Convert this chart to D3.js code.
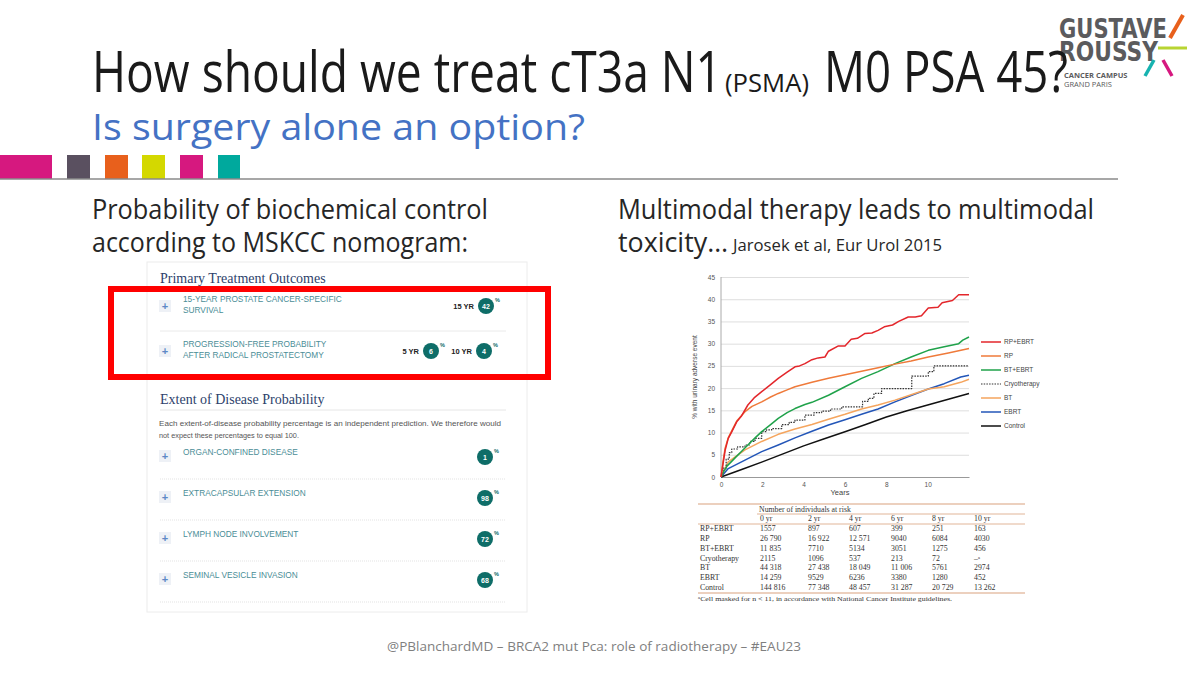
<!DOCTYPE html>
<meta charset="utf-8">
<style>
    body { margin: 0; background: #fff; }
    text { font-family: "Open Sans", "Noto Sans", sans-serif; }
    .sans text, text.sans { font-family: "Liberation Sans", Arial, sans-serif; }
    .serif text, text.serif, .sans text.serif { font-family: "Liberation Serif", "DejaVu Serif", serif; }
</style>

<svg width="1200" height="675"></svg>

<script src="https://cdn.jsdelivr.net/npm/d3@7"></script>
<script>

    // DATA

    // curves read from Jarosek et al (years, % with urinary adverse event)
    var rpEbrt = [[0,0],[0.1,3],[0.2,6],[0.35,8.7],[0.5,10],[0.76,12.4],[1.0,13.8],[1.3,16.2],[1.6,17.8],[1.97,19.2],
        [2.4,20.8],[2.77,22.2],[3.2,23.6],[3.58,24.8],[3.8,25],[4.06,25.5],[4.4,26.4],[4.7,26.8],[5.03,27],[5.2,28.3],
        [5.68,29.5],[6.0,29.5],[6.3,31],[6.6,31.2],[6.97,32.3],[7.3,32.4],[7.6,33],[7.9,33.8],[8.3,34.2],[8.6,35],
        [9.06,36],[9.4,36],[9.7,36.3],[10.03,38],[10.5,38.2],[10.7,39.2],[11.2,39.7],[11.5,41],[12,41]];
    var rp = [[0,0],[0.1,3.5],[0.2,6.5],[0.35,8.8],[0.5,10.2],[0.76,12.6],[1.16,14.7],[1.5,15.9],[1.97,16.9],[2.4,18],
        [2.77,18.8],[3.2,19.6],[3.58,20.3],[4.4,21.3],[5.2,22.2],[6,23],[6.8,23.8],[7.6,24.6],[8.42,25.4],[9.2,26.1],
        [10.03,27],[11,27.9],[12,28.9]];
    var btEbrt = [[0,0],[0.1,1],[0.3,2.5],[0.68,4.3],[1.0,5.8],[1.3,7.2],[1.65,8.8],[1.97,10.2],[2.4,11.8],[2.77,13.2],
        [3.2,14.5],[3.58,15.4],[4.06,16.3],[4.4,16.8],[5.2,18.4],[6.0,20.3],[6.8,22.2],[7.6,23.7],[8.42,25.5],[9.2,27],
        [10.03,28.5],[10.8,29.3],[11.5,30],[11.7,30.8],[12,31.5]];
    var cryo = [[0,0],[0.1,2],[0.25,4],[0.4,5.5],[0.52,6.3],[0.8,6.8],[1.16,7.2],[1.4,8],[1.65,8.7],[1.97,10.2],
        [2.2,10.6],[2.45,10.9],[2.94,11.8],[3.3,12.3],[3.58,12.8],[4.06,13.9],[4.5,14.5],[4.87,14.8],[5.3,15.3],
        [5.84,15.8],[6.73,15.8],[6.85,17],[7.13,17.7],[7.4,18.8],[7.77,19.9],[9.06,19.9],[9.23,22.7],[9.95,22.7],
        [10.03,23.7],[10.27,23.7],[10.3,25],[12,25]];
    var bt = [[0,0],[0.35,3.4],[1.16,6.1],[1.97,8],[2.77,9.6],[3.58,10.8],[4.4,11.8],[5.2,13],[6.0,14.1],[6.8,15.3],
        [7.6,16.2],[8.42,17.3],[9.2,18.5],[10.03,19.8],[10.8,20.3],[11.6,21.3],[12,22]];
    var ebrt = [[0,0],[0.35,1.9],[1.16,3.8],[1.97,5.7],[2.77,7.2],[3.58,8.8],[4.4,10.3],[5.2,11.7],[6.0,12.9],[6.8,14.1],
        [7.6,15.3],[8.42,16.9],[9.23,18.4],[10.03,19.8],[10.8,21],[11.6,22.5],[12,22.9]];
    var control = [[0,0],[1,1.7],[2,3.4],[3,5.2],[4,7],[5,8.6],[6,10.2],[7,11.8],[8,13.5],[9,14.9],[10,16.2],[11,17.5],[12,18.8]];

    var seriesNames = ["RP+EBRT", "RP", "BT+EBRT", "Cryotherapy", "BT", "EBRT", "Control"];
    var seriesData = [rpEbrt, rp, btEbrt, cryo, bt, ebrt, control];
    var seriesColors = ["#e3262b", "#ef7a3a", "#1fa24a", "#333333", "#f5a55e", "#2356b8", "#111111"];

    var yTicks = [0, 5, 10, 15, 20, 25, 30, 35, 40, 45];
    var xTicks = [0, 2, 4, 6, 8, 10];

    // number at risk table
    var riskCols = ["0 yr", "2 yr", "4 yr", "6 yr", "8 yr", "10 yr"];
    var riskRows = ["RP+EBRT", "RP", "BT+EBRT", "Cryotherapy", "BT", "EBRT", "Control"];
    var riskRpEbrt = ["1557", "897", "607", "399", "251", "163"];
    var riskRp = ["26 790", "16 922", "12 571", "9040", "6084", "4030"];
    var riskBtEbrt = ["11 835", "7710", "5134", "3051", "1275", "456"];
    var riskCryo = ["2115", "1096", "537", "213", "72", "\u2013\u1d43"];
    var riskBt = ["44 318", "27 438", "18 049", "11 006", "5761", "2974"];
    var riskEbrt = ["14 259", "9529", "6236", "3380", "1280", "452"];
    var riskControl = ["144 816", "77 348", "48 457", "31 287", "20 729", "13 262"];
    var riskCounts = [riskRpEbrt, riskRp, riskBtEbrt, riskCryo, riskBt, riskEbrt, riskControl];

    // MSKCC nomogram panel
    var outcomeLabels = [["15-YEAR PROSTATE CANCER-SPECIFIC", "SURVIVAL"], ["PROGRESSION-FREE PROBABILITY", "AFTER RADICAL PROSTATECTOMY"]];
    var outcomeValues = [[["15 YR", 42]], [["5 YR", 6], ["10 YR", 4]]];
    var extentLabels = ["ORGAN-CONFINED DISEASE", "EXTRACAPSULAR EXTENSION", "LYMPH NODE INVOLVEMENT", "SEMINAL VESICLE INVASION"];
    var extentValues = [1, 98, 72, 68];

    var svg = d3.select("svg");

    // LOGO (drawn first, title overlaps it)

    var logo = svg.append("g");
    logo.append("text").attr("x", 1059).attr("y", 38).attr("font-size", 27).attr("font-weight", "bold")
        .attr("fill", "#5b5b5d").attr("textLength", 108).attr("lengthAdjust", "spacingAndGlyphs")
        .style("font-family", "'DejaVu Sans', sans-serif").text("GUSTAVE");
    logo.append("text").attr("x", 1059).attr("y", 61).attr("font-size", 27).attr("font-weight", "bold")
        .attr("fill", "#5b5b5d").attr("textLength", 99).attr("lengthAdjust", "spacingAndGlyphs")
        .style("font-family", "'DejaVu Sans', sans-serif").text("ROUSSY");
    logo.append("line").attr("x1", 1170).attr("y1", 38).attr("x2", 1183).attr("y2", 15).attr("stroke", "#e8601c").attr("stroke-width", 4);
    logo.append("line").attr("x1", 1158).attr("y1", 48).attr("x2", 1187).attr("y2", 48).attr("stroke", "#b8d432").attr("stroke-width", 3);
    logo.append("line").attr("x1", 1145).attr("y1", 76).attr("x2", 1154).attr("y2", 60).attr("stroke", "#17b3b0").attr("stroke-width", 3.5);
    logo.append("line").attr("x1", 1163).attr("y1", 60).attr("x2", 1172).attr("y2", 76).attr("stroke", "#d6187f").attr("stroke-width", 3.5);
    logo.append("text").attr("x", 1064).attr("y", 78).attr("font-size", 7.5).attr("font-weight", "bold")
        .attr("fill", "#5b5b5d").text("CANCER CAMPUS");
    logo.append("text").attr("x", 1064).attr("y", 87).attr("font-size", 7.5)
        .attr("fill", "#5b5b5d").text("GRAND PARIS");

    // HEADER

    var title = svg.append("g").attr("fill", "#1a1a1a");
    title.append("text").attr("x", 92).attr("y", 92).attr("font-size", 56)
        .attr("textLength", 630).attr("lengthAdjust", "spacingAndGlyphs").text("How should we treat cT3a N1");
    title.append("text").attr("x", 725).attr("y", 92).attr("font-size", 26)
        .attr("textLength", 84).attr("lengthAdjust", "spacingAndGlyphs").text("(PSMA)");
    title.append("text").attr("x", 824).attr("y", 92).attr("font-size", 56)
        .attr("textLength", 244).attr("lengthAdjust", "spacingAndGlyphs").text("M0 PSA 45?");

    svg.append("text").attr("x", 92).attr("y", 140).attr("font-size", 37).attr("fill", "#4472c4")
        .attr("textLength", 493).attr("lengthAdjust", "spacingAndGlyphs").text("Is surgery alone an option?");

    var squares = [[0, 52, "#d6187f"], [67, 23, "#5a5060"], [105, 23, "#e8601c"], [142, 23, "#d4d800"], [180, 23, "#d6187f"], [218, 22, "#00a99d"]];
    svg.selectAll(".sq").data(squares).enter().append("rect")
        .attr("x", function (d) { return d[0]; }).attr("y", 155)
        .attr("width", function (d) { return d[1]; }).attr("height", 24)
        .attr("fill", function (d) { return d[2]; });
    svg.append("line").attr("x1", 0).attr("x2", 1118).attr("y1", 179).attr("y2", 179)
        .attr("stroke", "#8a8a8a").attr("stroke-width", 1.5);

    var heads = svg.append("g").attr("fill", "#262626").attr("font-size", 27);
    heads.append("text").attr("x", 92).attr("y", 219).attr("textLength", 396).attr("lengthAdjust", "spacingAndGlyphs")
        .text("Probability of biochemical control");
    heads.append("text").attr("x", 92).attr("y", 252).attr("textLength", 376).attr("lengthAdjust", "spacingAndGlyphs")
        .text("according to MSKCC nomogram:");
    heads.append("text").attr("x", 618).attr("y", 219).attr("textLength", 476).attr("lengthAdjust", "spacingAndGlyphs")
        .text("Multimodal therapy leads to multimodal");
    heads.append("text").attr("x", 618).attr("y", 252).attr("textLength", 110).attr("lengthAdjust", "spacingAndGlyphs")
        .text("toxicity\u2026");
    heads.append("text").attr("x", 733).attr("y", 251).attr("font-size", 17).attr("textLength", 209).attr("lengthAdjust", "spacingAndGlyphs")
        .text("Jarosek et al, Eur Urol 2015");

    svg.append("text").attr("x", 594).attr("y", 651).attr("text-anchor", "middle").attr("font-size", 13.5)
        .attr("fill", "#7f7f7f").attr("textLength", 414).attr("lengthAdjust", "spacingAndGlyphs")
        .text("@PBlanchardMD \u2013 BRCA2 mut Pca: role of radiotherapy \u2013 #EAU23");

    // MSKCC PANEL

    var teal = "#0e6d68", labelCol = "#4a8d96";
    var panel = svg.append("g").attr("class", "sans");
    panel.append("rect").attr("x", 147).attr("y", 262).attr("width", 380).attr("height", 350)
        .attr("fill", "#fff").attr("stroke", "#ececec");

    panel.append("text").attr("class", "serif").attr("x", 160).attr("y", 283).attr("font-size", 14)
        .attr("fill", "#2d3f6b").text("Primary Treatment Outcomes");

    function plusBox(y) {
        panel.append("rect").attr("x", 159).attr("y", y - 6).attr("width", 12).attr("height", 12).attr("fill", "#eef1f6");
        panel.append("text").attr("x", 165).attr("y", y + 3.5).attr("text-anchor", "middle").attr("font-size", 11)
            .attr("font-weight", "bold").attr("fill", "#5d88c6").text("+");
    }
    function badge(cx, cy, v) {
        panel.append("circle").attr("cx", cx).attr("cy", cy).attr("r", 8).attr("fill", teal);
        panel.append("text").attr("x", cx).attr("y", cy + 2.6).attr("text-anchor", "middle").attr("font-size", 7)
            .attr("font-weight", "bold").attr("fill", "#fff").text(v);
        panel.append("text").attr("x", cx + 9).attr("y", cy - 4).attr("font-size", 5.5)
            .attr("font-weight", "bold").attr("fill", teal).text("%");
    }

    var outY = d3.scaleOrdinal().domain([0, 1]).range([302, 347]);
    var badgeX = [[486], [431, 484]];
    outcomeLabels.forEach(function (lines, i) {
        var y0 = outY(i);
        plusBox(y0 + 4);
        lines.forEach(function (l, j) {
            panel.append("text").attr("x", 183).attr("y", y0 + j * 11).attr("font-size", 8.3)
                .attr("fill", labelCol).text(l);
        });
        outcomeValues[i].forEach(function (v, k) {
            var bx = badgeX[i][k];
            panel.append("text").attr("x", bx - 12).attr("y", y0 + 6.5).attr("text-anchor", "end").attr("font-size", 7.5)
                .attr("font-weight", "bold").attr("fill", "#222").text(v[0]);
            badge(bx, y0 + 4, v[1]);
        });
    });
    panel.append("line").attr("x1", 160).attr("x2", 506).attr("y1", 331).attr("y2", 331).attr("stroke", "#eaeaea");

    panel.append("text").attr("class", "serif").attr("x", 160).attr("y", 404).attr("font-size", 14)
        .attr("fill", "#2d3f6b").text("Extent of Disease Probability");
    panel.append("line").attr("x1", 160).attr("x2", 506).attr("y1", 410).attr("y2", 410).attr("stroke", "#e6e6e6");
    panel.append("text").attr("x", 159).attr("y", 426).attr("font-size", 7.3).attr("fill", "#555")
        .attr("textLength", 342).attr("lengthAdjust", "spacingAndGlyphs")
        .text("Each extent-of-disease probability percentage is an independent prediction. We therefore would");
    panel.append("text").attr("x", 159).attr("y", 438).attr("font-size", 7.3).attr("fill", "#555")
        .text("not expect these percentages to equal 100.");

    var extY = d3.scaleLinear().domain([0, 3]).range([455, 578]);
    extentLabels.forEach(function (l, i) {
        var y0 = extY(i);
        plusBox(y0 + 1);
        panel.append("text").attr("x", 183).attr("y", y0).attr("font-size", 8.3).attr("fill", labelCol).text(l);
        badge(485, y0 + 2, extentValues[i]);
        panel.append("line").attr("x1", 160).attr("x2", 506).attr("y1", y0 + 24).attr("y2", y0 + 24)
            .attr("stroke", "#e3e3e3").attr("stroke-dasharray", "1,1");
    });

    // red highlight box
    svg.append("rect").attr("x", 111).attr("y", 289).attr("width", 437).attr("height", 88)
        .attr("fill", "none").attr("stroke", "#ff0000").attr("stroke-width", 6);

    // CURVE CHART

    var x = d3.scaleLinear().domain([0, 12]).range([721, 969]),
        y = d3.scaleLinear().domain([0, 45]).range([477, 277]);

    var chart = svg.append("g").attr("class", "sans");

    chart.append("g").attr("transform", "translate(721,0)")
        .call(d3.axisLeft(y).tickValues(yTicks).tickSize(-248).tickPadding(6))
        .call(function (g) {
            g.select(".domain").remove();
            g.selectAll(".tick line").attr("stroke", "#d6d6d6").attr("stroke-width", 0.8);
            g.selectAll(".tick text").attr("font-size", 6.5).attr("fill", "#555");
        });
    chart.append("line").attr("x1", 721).attr("x2", 721).attr("y1", 277).attr("y2", 477).attr("stroke", "#aaa");

    chart.append("g").attr("transform", "translate(0,477)")
        .call(d3.axisBottom(x).tickValues(xTicks).tickSize(0).tickPadding(5))
        .call(function (g) {
            g.select(".domain").attr("stroke", "#999");
            g.selectAll(".tick text").attr("font-size", 6.5).attr("fill", "#555");
        });

    chart.append("text").attr("x", 840).attr("y", 495).attr("text-anchor", "middle").attr("font-size", 7.5)
        .attr("fill", "#444").text("Years");
    chart.append("text").attr("transform", "translate(697,377) rotate(-90)").attr("text-anchor", "middle")
        .attr("font-size", 6.5).attr("fill", "#444").text("% with urinary adverse event");

    var line = d3.line().x(function (d) { return x(d[0]); }).y(function (d) { return y(d[1]); });
    var stepLine = d3.line().curve(d3.curveStepAfter).x(function (d) { return x(d[0]); }).y(function (d) { return y(d[1]); });

    var drawOrder = [6, 5, 4, 3, 2, 1, 0];
    drawOrder.forEach(function (i) {
        chart.append("path").datum(seriesData[i])
            .attr("d", seriesNames[i] === "Cryotherapy" ? stepLine : line)
            .attr("fill", "none").attr("stroke", seriesColors[i])
            .attr("stroke-width", seriesNames[i] === "Cryotherapy" ? 1.2 : 1.5)
            .attr("stroke-dasharray", seriesNames[i] === "Cryotherapy" ? "1.5,1.2" : null)
            .attr("stroke-linejoin", "round");
    });

    var legY = d3.scaleLinear().domain([0, 6]).range([342, 426]);
    seriesNames.forEach(function (n, i) {
        chart.append("line").attr("x1", 981).attr("x2", 1001).attr("y1", legY(i)).attr("y2", legY(i))
            .attr("stroke", seriesColors[i]).attr("stroke-width", i === 3 ? 1.2 : 1.5)
            .attr("stroke-dasharray", i === 3 ? "1.5,1.2" : null);
        chart.append("text").attr("x", 1004).attr("y", legY(i) + 2.3).attr("font-size", 6.5)
            .attr("fill", "#444").text(n);
    });

    // RISK TABLE

    var tbl = svg.append("g").attr("class", "serif").attr("fill", "#333");
    var rule = "#d9a27f";
    var colX = [760, 808, 849, 891, 932, 974];
    tbl.append("line").attr("x1", 698).attr("x2", 1025).attr("y1", 504).attr("y2", 504).attr("stroke", rule).attr("stroke-width", 1.2);
    tbl.append("text").attr("x", 759).attr("y", 512).attr("font-size", 7.8).text("Number of individuals at risk");
    tbl.append("line").attr("x1", 757).attr("x2", 1025).attr("y1", 514).attr("y2", 514).attr("stroke", rule).attr("stroke-width", 0.8);
    riskCols.forEach(function (c, j) {
        tbl.append("text").attr("x", colX[j]).attr("y", 521).attr("font-size", 7.8).text(c);
    });
    tbl.append("line").attr("x1", 698).attr("x2", 1025).attr("y1", 524).attr("y2", 524).attr("stroke", rule).attr("stroke-width", 0.8);
    var rowY = d3.scaleLinear().domain([0, 6]).range([531, 590]);
    riskRows.forEach(function (r, i) {
        tbl.append("text").attr("x", 700).attr("y", rowY(i)).attr("font-size", 7.8).text(r);
        riskCounts[i].forEach(function (v, j) {
            tbl.append("text").attr("x", colX[j]).attr("y", rowY(i)).attr("font-size", 7.8).text(v);
        });
    });
    tbl.append("line").attr("x1", 698).attr("x2", 1025).attr("y1", 593).attr("y2", 593).attr("stroke", rule).attr("stroke-width", 1.2);
    tbl.append("text").attr("x", 698).attr("y", 600.5).attr("font-size", 6.8)
        .attr("textLength", 254).attr("lengthAdjust", "spacingAndGlyphs")
        .text("\u1d43Cell masked for n < 11, in accordance with National Cancer Institute guidelines.");

</script>
